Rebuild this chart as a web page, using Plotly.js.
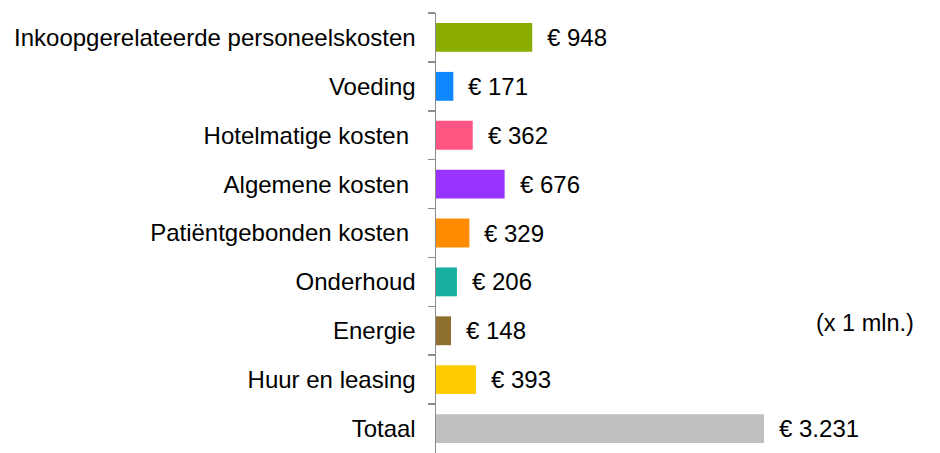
<!DOCTYPE html>
<html>
<head>
<meta charset="utf-8">
<script src="https://cdn.plot.ly/plotly-3.0.1.min.js"></script>
<style>html,body{margin:0;padding:0;background:#fff;}#chart{width:940px;height:453px;}</style>
</head>
<body>
<div id="chart"></div>
<script>
const categories = [
  "Inkoopgerelateerde personeelskosten",
  "Voeding",
  "Hotelmatige kosten\u00a0",
  "Algemene kosten\u00a0",
  "Patiëntgebonden kosten\u00a0",
  "Onderhoud",
  "Energie",
  "Huur en leasing",
  "Totaal"
];
const values = [948, 171, 362, 676, 329, 206, 148, 393, 3231];
const valueLabels = ["€ 948", "€ 171", "€ 362", "€ 676", "€ 329", "€ 206", "€ 148", "€ 393", "€ 3.231"];
const colors = ["#8aab00", "#0f87ff", "#ff5582", "#9933ff", "#ff8c00", "#17ada0", "#8e6f2e", "#ffcc00", "#c0c0c0"];
const unitNote = "(x 1 mln.)";

const font = "Liberation Sans, Arial, sans-serif";

const trace = {
  type: "bar",
  orientation: "h",
  y: categories,
  x: values,
  marker: {color: colors},
  hoverinfo: "none"
};

const annotations = values.map((v, i) => ({
  x: v, y: categories[i], xref: "x", yref: "y",
  text: valueLabels[i], showarrow: false,
  xanchor: "left", yanchor: "middle", xshift: 13,
  font: {family: font, size: 24, color: "#000"}
}));
annotations.push({
  xref: "paper", yref: "paper", x: 0.972, y: 0.295,
  xanchor: "right", yanchor: "middle", showarrow: false,
  text: unitNote, font: {family: font, size: 23.5, color: "#000"}
});

const layout = {
  width: 940, height: 453,
  margin: {l: 436, r: 10, t: 13, b: 0, pad: 0},
  paper_bgcolor: "#fff", plot_bgcolor: "#fff",
  showlegend: false,
  bargap: 0.41,
  xaxis: {range: [0, 3231 * 494 / 328], visible: false, fixedrange: true},
  yaxis: {
    autorange: "reversed",
    showline: true, linecolor: "#8c8c8c", linewidth: 1.5,
    ticks: "outside", ticklen: 7, tickcolor: "#8c8c8c", tickwidth: 1.5,
    tickson: "boundaries",
    ticklabelstandoff: 14,
    showgrid: false, zeroline: false,
    tickfont: {family: font, size: 24, color: "#000"}
  },
  annotations: annotations
};

Plotly.newPlot("chart", [trace], layout, {staticPlot: true, displayModeBar: false});
</script>
</body>
</html>
